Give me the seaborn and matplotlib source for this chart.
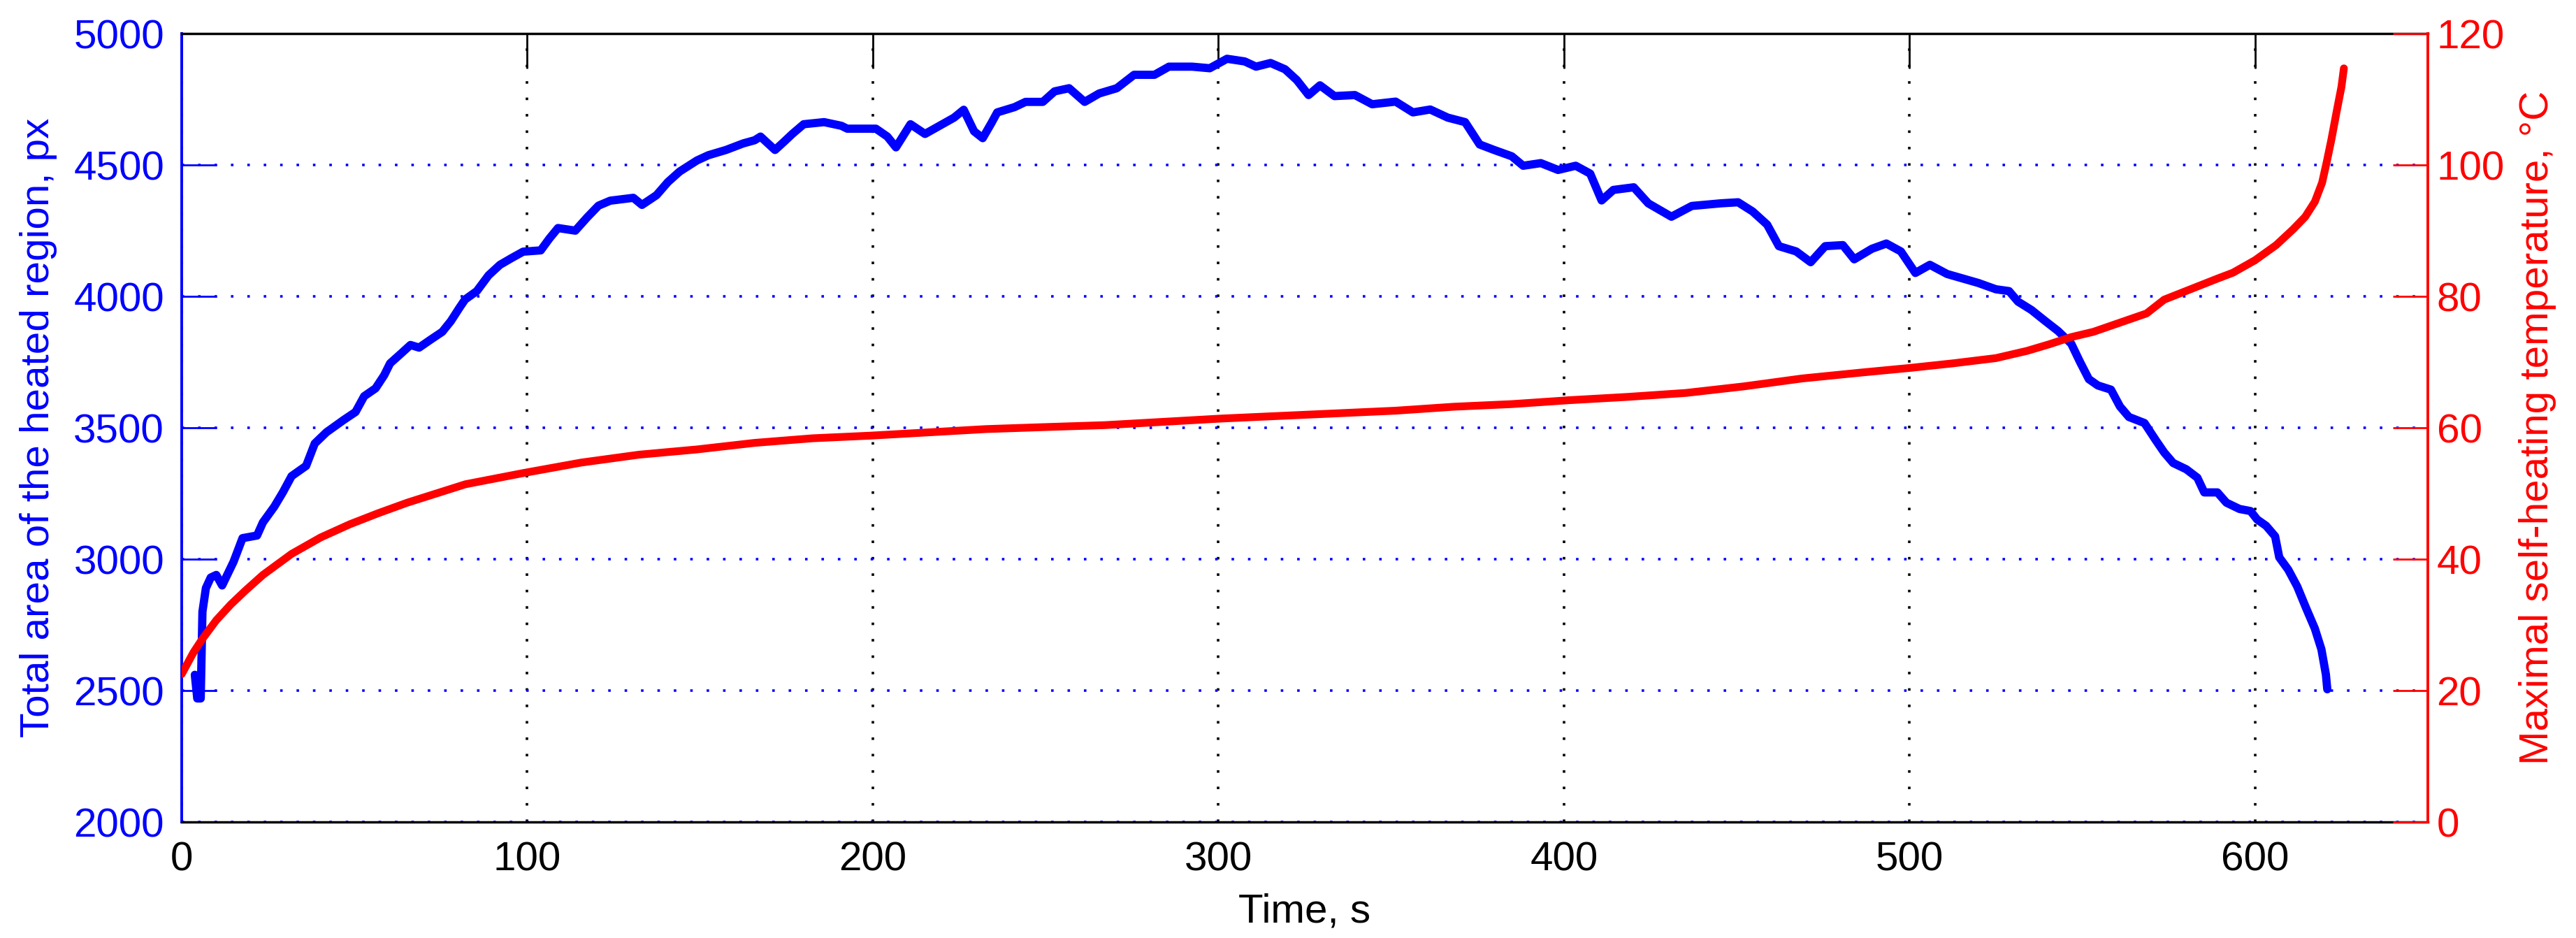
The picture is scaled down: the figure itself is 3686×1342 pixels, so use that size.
import numpy as np
import pandas as pd
import matplotlib
matplotlib.use("Agg")
import matplotlib.pyplot as plt
import seaborn as sns

# area of the heated region (left axis)
blue_t = [3.8, 4.5, 5.5, 6.0, 7.0, 8.4, 10.0, 11.7, 15.0, 17.6,
          21.8, 23.5, 26.8, 29.3, 31.8, 36.0, 38.5, 41.9, 46.9, 50.3,
          52.8, 56.1, 58.6, 60.3, 63.7, 66.2, 68.7, 72.0, 75.4, 77.9,
          80.4, 82.0, 85.4, 88.8, 92.1, 95.5, 98.8, 103.9, 106.4, 108.9,
          113.9, 117.3, 120.6, 124.0, 130.7, 133.2, 137.4, 140.7, 144.1, 149.1,
          152.4, 157.5, 162.5, 165.8, 167.5, 171.7, 174.2, 176.7, 180.0, 185.9,
          190.9, 192.6, 197.6, 200.9, 204.2, 206.7, 210.9, 215.1, 219.3, 223.5,
          226.3, 229.3, 231.8, 234.3, 236.0, 241.0, 244.2, 249.2, 252.6, 256.8,
          261.3, 265.5, 270.6, 275.6, 281.5, 285.7, 292.4, 297.5, 302.5, 307.6,
          310.9, 315.1, 319.3, 322.7, 326.1, 329.4, 333.6, 339.5, 344.5, 351.3,
          356.3, 361.3, 366.4, 371.4, 375.6, 379.8, 384.9, 388.2, 393.3, 398.3,
          403.4, 407.6, 410.9, 414.3, 420.2, 424.4, 431.1, 437.0, 445.4, 450.4,
          454.6, 458.8, 462.2, 467.2, 471.4, 475.6, 480.7, 484.0, 489.1, 493.3,
          497.5, 501.7, 505.9, 510.9, 519.9, 525.0, 528.8, 531.4, 535.3, 539.1,
          543.0, 546.8, 549.4, 551.9, 554.5, 558.3, 560.9, 563.5, 568.0, 571.2,
          573.7, 576.3, 580.1, 583.3, 585.3, 589.1, 591.7, 595.5, 598.7, 600.6,
          603.2, 605.8, 607.0, 609.6, 612.2, 614.7, 617.3, 619.2, 620.5, 620.9]
blue_area = [2560, 2470, 2470, 2800, 2890, 2930, 2940, 2900, 2990, 3080,
             3090, 3140, 3200, 3255, 3316, 3355, 3440, 3483, 3530, 3560,
             3620, 3650, 3700, 3745, 3785, 3815, 3805, 3835, 3865, 3906,
             3957, 3988, 4020, 4080, 4120, 4146, 4170, 4175, 4220, 4260,
             4250, 4300, 4345, 4364, 4375, 4348, 4385, 4435, 4475, 4517,
             4537, 4557, 4582, 4594, 4608, 4557, 4587, 4618, 4655, 4663,
             4649, 4638, 4638, 4638, 4608, 4567, 4655, 4618, 4649, 4680,
             4710, 4628, 4602, 4659, 4700, 4720, 4740, 4740, 4780, 4792,
             4740, 4772, 4792, 4843, 4843, 4874, 4874, 4868, 4904, 4894,
             4874, 4888, 4864, 4823, 4766, 4803, 4762, 4766, 4731, 4741,
             4700, 4711, 4680, 4663, 4578, 4557, 4533, 4497, 4507, 4481,
             4497, 4467, 4365, 4405, 4415, 4354, 4303, 4344, 4354, 4358,
             4323, 4273, 4191, 4171, 4130, 4191, 4195, 4141, 4181, 4201,
             4171, 4089, 4120, 4085, 4051, 4027, 4020, 3980, 3948, 3908,
             3868, 3820, 3749, 3685, 3661, 3645, 3581, 3541, 3518, 3454,
             3406, 3366, 3342, 3310, 3254, 3254, 3215, 3191, 3183, 3151,
             3127, 3087, 3007, 2960, 2896, 2816, 2736, 2657, 2561, 2505]

# maximal self-heating temperature (right axis)
red_t = [0.0, 3.4, 5.9, 10.0, 14.2, 18.4, 23.5, 31.8, 40.2, 48.6,
         56.9, 65.3, 73.7, 82.1, 98.8, 115.6, 132.3, 149.1, 165.8, 182.6,
         199.3, 216.1, 232.8, 249.6, 267.2, 284.0, 300.8, 317.6, 334.5, 351.3,
         368.1, 384.9, 401.7, 418.5, 435.3, 452.1, 468.9, 486.0, 500.0, 512.5,
         525.0, 534.0, 540.4, 546.8, 553.2, 560.9, 568.6, 573.7, 581.4, 589.1,
         593.6, 600.0, 606.1, 611.0, 614.5, 617.3, 619.4, 620.8, 622.1, 623.6,
         625.0, 625.7]
red_temp = [22.5, 25.8, 27.8, 30.7, 33.1, 35.2, 37.6, 40.8, 43.3, 45.3,
            47.0, 48.6, 50.0, 51.4, 53.1, 54.7, 55.9, 56.7, 57.7, 58.4,
            58.8, 59.3, 59.8, 60.1, 60.4, 60.9, 61.4, 61.8, 62.2, 62.6,
            63.2, 63.6, 64.2, 64.7, 65.3, 66.3, 67.5, 68.4, 69.1, 69.8,
            70.6, 71.7, 72.7, 73.8, 74.6, 76.0, 77.4, 79.5, 81.1, 82.7,
            83.6, 85.5, 87.8, 90.2, 92.1, 94.4, 97.3, 100.6, 103.9, 108.1,
            111.9, 114.7]

x_ticks = [0, 100, 200, 300, 400, 500, 600]
left_ticks = [2000, 2500, 3000, 3500, 4000, 4500, 5000]
right_ticks = [0, 20, 40, 60, 80, 100, 120]

BLUE = "#0000ff"
RED = "#ff0000"

sns.set_style("white")
plt.rcParams['font.family'] = ['Liberation Sans', 'DejaVu Sans']
FS = 42

W, H = 3686, 1342
fig = plt.figure(figsize=(W / 100, H / 100), dpi=100)
ax = fig.add_axes([260 / W, 166 / H, (3474 - 260) / W, (1176 - 48) / H])
ax2 = ax.twinx()

df_a = pd.DataFrame({"t": blue_t, "area": blue_area})
df_T = pd.DataFrame({"t": red_t, "temp": red_temp})
sns.lineplot(data=df_a, x="t", y="area", ax=ax, color=BLUE, linewidth=8.5,
             sort=False, estimator=None, legend=False)
sns.lineplot(data=df_T, x="t", y="temp", ax=ax2, color=RED, linewidth=8,
             sort=False, estimator=None, legend=False)

ax.set_xlim(0, 650)
ax.set_ylim(2000, 5000)
ax2.set_ylim(0, 120)
ax.set_xticks(x_ticks)
ax.set_yticks(left_ticks)
ax2.set_yticks(right_ticks)

# matlab style dotted grid
dots = (0, (1, 5.5))
ax.xaxis.grid(True, color="black", linestyle=dots, linewidth=2.6)
ax.yaxis.grid(True, color=BLUE, linestyle=dots, linewidth=2.6)
ax.set_axisbelow(True)

for s in ["top", "bottom"]:
    ax.spines[s].set_color("black")
    ax.spines[s].set_linewidth(2.5)
ax.spines["left"].set_color(BLUE)
ax.spines["left"].set_linewidth(2.8)
ax.spines["right"].set_visible(False)
for s in ["top", "bottom", "left"]:
    ax2.spines[s].set_visible(False)
ax2.spines["right"].set_color(RED)
ax2.spines["right"].set_linewidth(2.8)

ax.tick_params(axis="x", direction="in", length=36, width=2, top=True,
               colors="black", labelsize=FS, pad=20)
ax.tick_params(axis="y", direction="in", length=36, width=2,
               colors=BLUE, labelsize=FS, pad=18)
ax2.tick_params(axis="y", direction="in", length=36, width=2,
                colors=RED, labelsize=FS, pad=9)

ax.set_xlabel("Time, s", fontsize=FS, color="black")
ax.xaxis.set_label_coords(0.5, -0.09)
ax.set_ylabel("Total area of the heated region, px", fontsize=FS, color=BLUE)
ax.yaxis.set_label_coords(-0.0555, 0.5)
ax2.set_ylabel("Maximal self-heating temperature, °C", fontsize=FS, color=RED)
ax2.yaxis.set_label_coords(1.0405, 0.5)

fig.savefig("out.png", dpi=100)
